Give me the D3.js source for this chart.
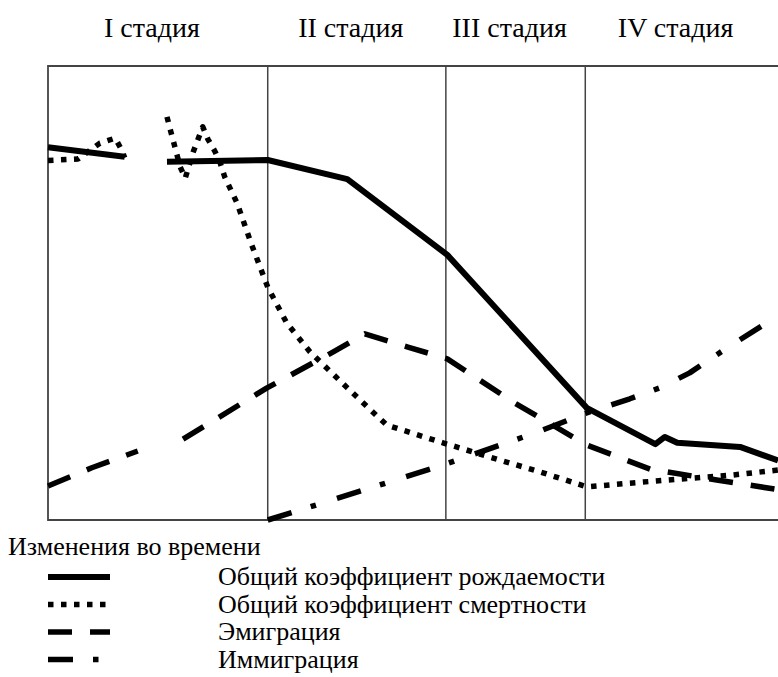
<!DOCTYPE html>
<html>
<head>
<meta charset="utf-8">
<script src="https://cdn.jsdelivr.net/npm/d3@7"></script>
</head>
<body style="margin:0">
<div id="chart"></div>
<script>
var svgWidth = 778;
var svgHeight = 677;

// plot area (no right border in the original)
var plot = { left: 48, right: 778, top: 66, bottom: 520 };

// stages: names and boundaries on the time axis (0..100)
var stageNames = ["I стадия", "II стадия", "III стадия", "IV стадия"];
var stageBounds = [0, 30.1, 54.5, 73.6, 100];

// series as [time, value] pairs, null = break in the line
var birthRate = [
  [0, 82.1], [10.5, 80.0], null, [16.3, 78.9], [30.1, 79.3], [41.0, 75.1],
  [54.7, 58.4], [73.8, 24.7], [83.2, 16.7], [84.5, 18.3], [86.2, 17.0],
  [94.8, 16.1], [100, 13.1]
];
var deathRate = [
  [0, 79.2], [4.1, 79.5], [7.1, 83.0], [9.2, 84.1], [10.1, 81.5], [10.5, 79.8], null,
  [16.3, 88.8], [16.7, 86.3], [18.1, 77.8], [18.8, 75.3], [19.9, 81.1], [21.2, 86.6],
  [21.9, 83.9], [22.9, 81.1], [23.6, 78.6], [24.2, 75.6], [25.9, 69.8], [27.9, 60.6],
  [30.1, 51.3], [32.7, 43.4], [35.9, 37.0], [41.0, 29.1], [46.4, 20.9], [54.1, 17.0],
  [61.9, 13.2], [67.4, 10.6], [73.8, 7.3], [84.8, 8.8], [93.8, 9.9], [100, 11.0]
];
var emigration = [
  [0, 7.5], [6.0, 11.5], [12.3, 15.2], null, [18.5, 17.8], [30.0, 29.1],
  [38.6, 36.6], [43.4, 41.0], [49.3, 38.1], [54.7, 35.5], [63.7, 26.0],
  [73.8, 16.5], [82.5, 11.2], [91.6, 8.8], [100, 6.7]
];
var immigration = [
  [30.1, 0], [39.7, 4.8], [53.7, 11.9], [67.1, 19.4], [73.8, 23.6],
  [79.7, 26.7], [83.8, 29.1], [87.9, 32.4], [93.0, 37.9], [100, 45.0]
];

var legendTitle = "Изменения во времени";
var legendLabels = [
  "Общий коэффициент рождаемости",
  "Общий коэффициент смертности",
  "Эмиграция",
  "Иммиграция"
];

var series = [birthRate, deathRate, emigration, immigration];
var dashes = [null, "5.5,7.5", "24,18", "25,20,5.5,22"];
var widths = [6, 5.5, 5.5, 5.5];

var svg = d3.select("#chart")
  .append("svg")
  .attr("width", svgWidth)
  .attr("height", svgHeight);

var xScale = d3.scaleLinear()
  .domain([0, 100])
  .range([plot.left, plot.right]);

var yScale = d3.scaleLinear()
  .domain([0, 100])
  .range([plot.bottom, plot.top]);

// frame: top, left, bottom
svg.append("path")
  .attr("d", `M${plot.right},${plot.top}H${plot.left}V${plot.bottom}H${plot.right}`)
  .attr("fill", "none")
  .attr("stroke", "#444")
  .attr("stroke-width", 1.8);

// stage dividers
svg.selectAll(".divider")
  .data(stageBounds.slice(1, -1))
  .enter()
  .append("line")
  .attr("class", "divider")
  .attr("x1", d => xScale(d))
  .attr("x2", d => xScale(d))
  .attr("y1", plot.top)
  .attr("y2", plot.bottom)
  .attr("stroke", "#444")
  .attr("stroke-width", 1.5);

// stage titles
svg.selectAll(".stage")
  .data(stageNames)
  .enter()
  .append("text")
  .attr("class", "stage")
  .attr("x", (d, i) => (xScale(stageBounds[i]) + xScale(stageBounds[i + 1])) / 2 - 6)
  .attr("y", 37)
  .attr("text-anchor", "middle")
  .style("font-family", "\"Liberation Serif\"")
  .style("font-size", "28px")
  .text(d => d);

var line = d3.line()
  .defined(d => d !== null)
  .x(d => xScale(d[0]))
  .y(d => yScale(d[1]));

svg.selectAll(".series")
  .data(series)
  .enter()
  .append("path")
  .attr("class", "series")
  .attr("d", d => line(d))
  .attr("fill", "none")
  .attr("stroke", "#000")
  .attr("stroke-width", (d, i) => widths[i])
  .attr("stroke-dasharray", (d, i) => dashes[i])
  .attr("stroke-linejoin", "round");

// legend
svg.append("text")
  .attr("x", 8)
  .attr("y", 555)
  .style("font-family", "\"Liberation Serif\"")
  .style("font-size", "26px")
  .text(legendTitle);

var legendRows = svg.selectAll(".legend-row")
  .data(legendLabels)
  .enter()
  .append("g")
  .attr("class", "legend-row")
  .attr("transform", (d, i) => `translate(0, ${577 + i * 27.5})`);

legendRows.append("line")
  .attr("x1", 48)
  .attr("x2", 110)
  .attr("stroke", "#000")
  .attr("stroke-width", (d, i) => widths[i])
  .attr("stroke-dasharray", (d, i) => dashes[i]);

legendRows.append("text")
  .attr("x", 218)
  .attr("y", 8)
  .style("font-family", "\"Liberation Serif\"")
  .style("font-size", "26px")
  .text(d => d);
</script>
</body>
</html>
